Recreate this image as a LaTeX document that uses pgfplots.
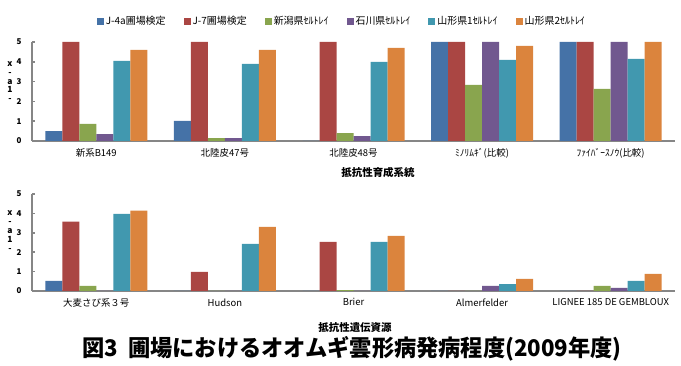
\documentclass[border=0pt]{standalone}
\usepackage{pgfplots}
\pgfplotsset{compat=1.18}
\usepackage{pgfplotstable}
\usepackage{graphicx}
\usepackage{fontspec}
\setmainfont{Noto Sans CJK JP}
\definecolor{c1}{HTML}{4572A7}
\definecolor{c2}{HTML}{AA4643}
\definecolor{c3}{HTML}{89A54E}
\definecolor{c4}{HTML}{71588F}
\definecolor{c5}{HTML}{4198AF}
\definecolor{c6}{HTML}{DB843D}
\definecolor{axgray}{HTML}{868686}

\pgfplotstableread{
x  a     b     c     d     e     f
0  0.50  5.00  0.87  0.35  4.05  4.60
1  1.02  5.00  0.15  0.15  3.90  4.60
2  0.00  5.00  0.40  0.25  4.00  4.70
3  5.00  5.00  2.83  5.00  4.10  4.80
4  5.00  5.00  2.63  5.00  4.15  5.00
}\topdata
\pgfplotstableread{
x  a     b     c     d     e     f
0  0.52  3.57  0.26  0.00  3.98  4.14
1  0.00  0.98  0.00  0.00  2.43  3.31
2  0.00  2.53  0.05  0.00  2.53  2.84
3  0.00  0.00  0.00  0.26  0.36  0.62
4  0.00  0.00  0.26  0.16  0.52  0.88
}\botdata

\pgfplotsset{
  mybars/.style={
    scale only axis,
    width=643bp,
    xmin=-0.5, xmax=4.5,
    ymin=0, ymax=5,
    ytick={0,1,2,3,4,5},
    xtick={0,1,2,3,4},
    extra x ticks={-0.5,0.5,1.5,2.5,3.5,4.5},
    extra x tick labels={},
    extra x tick style={major tick length=4bp},
    ybar=0pt,
    bar width=17bp,
    axis lines*=left,
    axis line style={axgray, line width=2.2bp},
    every tick/.style={axgray, line width=1.5bp},
    tick align=inside,
    major tick length=3bp,
    x tick style={draw=none},
    yticklabel style={font=\fontsize{8}{8}\selectfont\bfseries, xshift=-7bp},
    xticklabel style={font=\fontsize{9.5}{10}\selectfont, yshift=-4bp},
    /pgf/number format/assume math mode=true,
    clip=false,
    every axis plot/.append style={draw=none},
  }
}

\begin{document}
\begin{tikzpicture}
\path[use as bounding box] (0,0) rectangle (681bp,366bp);

\begin{axis}[mybars,
  at={(32bp,225bp)}, anchor=south west, height=99bp,
  xticklabels={{新系B149},{北陸皮47号},{北陸皮48号},{ﾐﾉﾘﾑｷﾞ(比較)},{ﾌｧｲﾊﾞｰｽﾉｳ(比較)}},
  legend style={at={(axis description cs:0.482,1.212)}, anchor=center, draw=none,
    font=\fontsize{10}{10}\selectfont, legend columns=6,
    /tikz/every even column/.append style={column sep=16bp}},
  legend image code/.code={\fill[#1,draw=none] (0bp,-3.5bp) rectangle (7bp,3.5bp);},
]
\addplot[fill=c1] table[x=x,y=a] {\topdata};
\addplot[fill=c2] table[x=x,y=b] {\topdata};
\addplot[fill=c3] table[x=x,y=c] {\topdata};
\addplot[fill=c4] table[x=x,y=d] {\topdata};
\addplot[fill=c5] table[x=x,y=e] {\topdata};
\addplot[fill=c6] table[x=x,y=f] {\topdata};
\legend{J-4a圃場検定, J-7圃場検定, 新潟県ｾﾙﾄﾚｲ, 石川県ｾﾙﾄﾚｲ, 山形県1ｾﾙﾄﾚｲ, 山形県2ｾﾙﾄﾚｲ}
\node[align=center, font=\fontsize{8.5}{8.5}\selectfont\bfseries, inner sep=0pt]
  at (axis description cs:-0.0342,0.60) {x\\[0.5pt]-\\[0.5pt]a\\[0.5pt]1\\[0.5pt]-};
\end{axis}

\begin{axis}[mybars,
  at={(32bp,75bp)}, anchor=south west, height=97bp,
  xticklabels={{大麦さび系３号},{Hudson},{Brier},{Almerfelder},{LIGNEE 185 DE GEMBLOUX}},
]
\addplot[fill=c1] table[x=x,y=a] {\botdata};
\addplot[fill=c2] table[x=x,y=b] {\botdata};
\addplot[fill=c3] table[x=x,y=c] {\botdata};
\addplot[fill=c4] table[x=x,y=d] {\botdata};
\addplot[fill=c5] table[x=x,y=e] {\botdata};
\addplot[fill=c6] table[x=x,y=f] {\botdata};
\node[align=center, font=\fontsize{8.5}{8.5}\selectfont\bfseries, inner sep=0pt]
  at (axis description cs:-0.0342,0.62) {x\\[0.5pt]-\\[0.5pt]a\\[0.5pt]1\\[0.5pt]-};
\end{axis}

\node[font=\fontsize{10.5}{11}\selectfont\bfseries] at (378bp,193bp) {抵抗性育成系統};
\node[font=\fontsize{10.5}{11}\selectfont\bfseries] at (355bp,38bp) {抵抗性遺伝資源};
\node[font=\fontsize{23}{25}\selectfont\bfseries] at (352bp,17bp)
  {\scalebox{0.97}[1]{図3\ \ 圃場におけるオオムギ雲形病発病程度(2009年度)}};
\end{tikzpicture}
\end{document}
